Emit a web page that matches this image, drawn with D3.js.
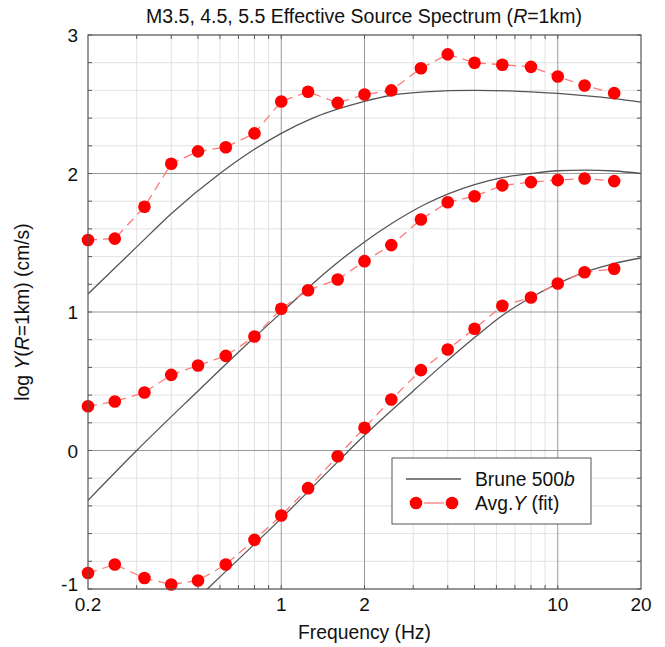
<!DOCTYPE html>
<html><head><meta charset="utf-8">
<script src="https://cdn.jsdelivr.net/npm/d3@7"></script>
<style>
body{margin:0;background:#fff;}
text{font-family:"Liberation Sans",Arial,sans-serif;fill:#111;}
</style></head>
<body><svg id="c" width="665" height="647"></svg>
<script>
// Data
const freqs = [0.2, 0.25, 0.32, 0.4, 0.5, 0.63, 0.8, 1, 1.25, 1.6, 2, 2.5, 3.2, 4, 5, 6.3, 8, 10, 12.5, 16];
const avgM55 = [1.52, 1.53, 1.76, 2.07, 2.16, 2.19, 2.29, 2.52, 2.59, 2.51, 2.57, 2.60, 2.76, 2.86, 2.80, 2.785, 2.77, 2.70, 2.635, 2.58];
const avgM45 = [0.32, 0.354, 0.419, 0.546, 0.614, 0.683, 0.823, 1.023, 1.157, 1.235, 1.367, 1.483, 1.668, 1.792, 1.836, 1.914, 1.938, 1.952, 1.964, 1.945];
const avgM35 = [-0.885, -0.823, -0.921, -0.968, -0.939, -0.823, -0.645, -0.469, -0.272, -0.041, 0.164, 0.368, 0.58, 0.729, 0.879, 1.045, 1.105, 1.206, 1.287, 1.312];

const bruneF55 = [0.2, 0.3, 0.4, 0.6, 0.8, 1, 1.3, 2, 2.5, 3.3, 5, 8, 10, 16, 20];
const bruneM55 = [1.13, 1.47, 1.71, 2.0, 2.175, 2.29, 2.40, 2.52, 2.565, 2.59, 2.60, 2.59, 2.578, 2.54, 2.515];
const bruneF45 = [0.2, 0.3, 0.5, 0.7, 1, 1.5, 2, 2.5, 3.3, 5, 6.3, 8, 10, 12.5, 16, 20];
const bruneM45 = [-0.36, 0.0, 0.43, 0.71, 0.995, 1.312, 1.506, 1.637, 1.776, 1.92, 1.97, 2.0, 2.02, 2.025, 2.018, 2.0];
const bruneF35 = [0.5, 0.54, 0.7, 1, 1.5, 2, 3, 3.84, 5, 6.3, 8, 10, 12.6, 16, 20];
const bruneM35 = [-1.064, -1.0, -0.786, -0.49, -0.138, 0.11, 0.43, 0.62, 0.815, 0.975, 1.105, 1.205, 1.29, 1.35, 1.39];

const xTickVals = [0.2, 1, 2, 10, 20];
const xTickLabels = ["0.2", "1", "2", "10", "20"];
const yTickVals = [-1, 0, 1, 2, 3];
const yTickLabels = ["-1", "0", "1", "2", "3"];

const svg = d3.select("#c");
const L = 88, R = 641, T = 35, B = 589;
const x = d3.scaleLog().domain([0.2, 20]).range([L, R]);
const y = d3.scaleLinear().domain([-1, 3]).range([B, T]);
const FS = 19;

// minor grid
const minorX = [];
[0.1, 1, 10].forEach(d => { for (let k = 1; k <= 9; k++) { const v = d * k; if (v > 0.2 + 1e-9 && v < 20 - 1e-9) minorX.push(+v.toFixed(3)); } });
const majorX = [1, 2, 10];
const minorY = d3.range(-1, 3.0001, 0.2).map(v => +v.toFixed(2));
const majorY = [0, 1, 2];

const g = svg.append("g");
g.selectAll(".mx").data(minorX.filter(v => !majorX.includes(v))).enter().append("line")
  .attr("x1", d => x(d)).attr("x2", d => x(d)).attr("y1", T).attr("y2", B)
  .attr("stroke", "#e2e2e2").attr("stroke-width", 1);
g.selectAll(".my").data(minorY.filter(v => !majorY.includes(v))).enter().append("line")
  .attr("y1", d => y(d)).attr("y2", d => y(d)).attr("x1", L).attr("x2", R)
  .attr("stroke", "#e2e2e2").attr("stroke-width", 1);
g.selectAll(".Mx").data(majorX).enter().append("line")
  .attr("x1", d => x(d)).attr("x2", d => x(d)).attr("y1", T).attr("y2", B)
  .attr("stroke", "#9a9a9a").attr("stroke-width", 1);
g.selectAll(".My").data(majorY).enter().append("line")
  .attr("y1", d => y(d)).attr("y2", d => y(d)).attr("x1", L).attr("x2", R)
  .attr("stroke", "#9a9a9a").attr("stroke-width", 1);

// inward ticks on all four sides
const tk = 4;
minorX.forEach(v => {
  g.append("line").attr("x1", x(v)).attr("x2", x(v)).attr("y1", B).attr("y2", B - tk).attr("stroke", "#555");
  g.append("line").attr("x1", x(v)).attr("x2", x(v)).attr("y1", T).attr("y2", T + tk).attr("stroke", "#555");
});
minorY.forEach(v => {
  g.append("line").attr("x1", L).attr("x2", L + tk).attr("y1", y(v)).attr("y2", y(v)).attr("stroke", "#555");
  g.append("line").attr("x1", R).attr("x2", R - tk).attr("y1", y(v)).attr("y2", y(v)).attr("stroke", "#555");
});

// clip
svg.append("clipPath").attr("id", "clip").append("rect").attr("x", L).attr("y", T).attr("width", R - L).attr("height", B - T);

const lineGen = d3.line().x(d => x(d[0])).y(d => y(d[1])).curve(d3.curveMonotoneX);
const plot = svg.append("g").attr("clip-path", "url(#clip)");
[[bruneF55, bruneM55], [bruneF45, bruneM45], [bruneF35, bruneM35]].forEach(([f, v]) => {
  plot.append("path").datum(f.map((d, i) => [d, v[i]])).attr("d", lineGen)
    .attr("fill", "none").attr("stroke", "#555").attr("stroke-width", 1.3);
});
const straight = d3.line().x(d => x(d[0])).y(d => y(d[1]));
[avgM55, avgM45, avgM35].forEach(v => {
  const pts = freqs.map((d, i) => [d, v[i]]);
  plot.append("path").datum(pts).attr("d", straight)
    .attr("fill", "none").attr("stroke", "#ff7a7a").attr("stroke-width", 1.3).attr("stroke-dasharray", "9,6");
});
const pg = svg.append("g");
[avgM55, avgM45, avgM35].forEach(v => {
  pg.selectAll(null).data(freqs.map((d, i) => [d, v[i]])).enter().append("circle")
    .attr("cx", d => x(d[0])).attr("cy", d => y(d[1])).attr("r", 6.3).attr("fill", "#ff0000");
});

// frame
svg.append("rect").attr("x", L).attr("y", T).attr("width", R - L).attr("height", B - T)
  .attr("fill", "none").attr("stroke", "#555").attr("stroke-width", 1.2);

// tick labels
const xa = svg.append("g");
xa.selectAll("text").data(xTickVals).enter().append("text")
  .attr("x", d => x(d)).attr("y", 611).attr("text-anchor", "middle").attr("font-size", FS)
  .text((d, i) => xTickLabels[i]);
const ya = svg.append("g");
ya.selectAll("text").data(yTickVals).enter().append("text")
  .attr("x", 78).attr("y", d => d === -1 ? y(d) + 2 : y(d) + 7).attr("text-anchor", "end").attr("font-size", FS)
  .text((d, i) => yTickLabels[i]);

// title
const title = svg.append("text").attr("x", 364).attr("y", 23).attr("text-anchor", "middle").attr("font-size", 19.5);
title.append("tspan").text("M3.5, 4.5, 5.5 Effective Source Spectrum (");
title.append("tspan").attr("font-style", "italic").text("R");
title.append("tspan").text("=1km)");

// x label
svg.append("text").attr("x", 364.5).attr("y", 639).attr("text-anchor", "middle").attr("font-size", 19.3).text("Frequency (Hz)");

// y label
const yl = svg.append("text").attr("transform", "translate(29," + ((T + B) / 2) + ") rotate(-90)")
  .attr("text-anchor", "middle").attr("font-size", 19.3);
yl.append("tspan").text("log ");
yl.append("tspan").attr("font-style", "italic").text("Y");
yl.append("tspan").text("(");
yl.append("tspan").attr("font-style", "italic").text("R");
yl.append("tspan").text("=1km) (cm/s)");

// legend
const lg = svg.append("g");
lg.append("rect").attr("x", 392).attr("y", 458).attr("width", 199).attr("height", 66)
  .attr("fill", "#fff").attr("stroke", "#555").attr("stroke-width", 1);
lg.append("line").attr("x1", 406).attr("x2", 461).attr("y1", 479).attr("y2", 479).attr("stroke", "#555").attr("stroke-width", 1.3);
const t1 = lg.append("text").attr("x", 475).attr("y", 486).attr("font-size", 19.3);
t1.append("tspan").text("Brune 500");
t1.append("tspan").attr("font-style", "italic").text("b");
lg.append("line").attr("x1", 424).attr("x2", 444).attr("y1", 503).attr("y2", 503).attr("stroke", "#ff7a7a").attr("stroke-width", 1.3);
lg.append("circle").attr("cx", 416).attr("cy", 503).attr("r", 6.3).attr("fill", "#ff0000");
lg.append("circle").attr("cx", 452).attr("cy", 503).attr("r", 6.3).attr("fill", "#ff0000");
const t2 = lg.append("text").attr("x", 475).attr("y", 510).attr("font-size", 19.3);
t2.append("tspan").text("Avg.");
t2.append("tspan").attr("font-style", "italic").text("Y");
t2.append("tspan").text(" (fit)");
</script></body></html>
